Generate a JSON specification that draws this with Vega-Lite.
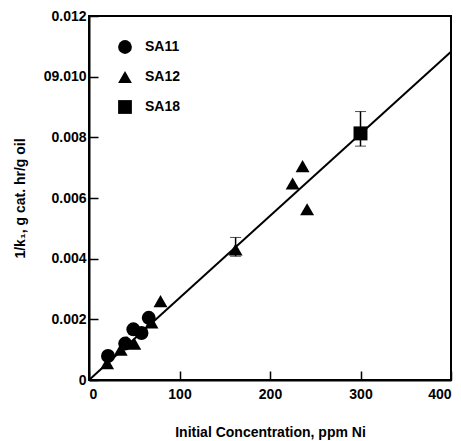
{
  "$schema": "https://vega.github.io/schema/vega-lite/v6.json",
  "width": 362,
  "height": 364,
  "autosize": "none",
  "padding": {"left": 89, "top": 16, "right": 10, "bottom": 61},
  "background": "white",
  "config": {
    "font": "Liberation Sans",
    "view": {"stroke": "black", "strokeWidth": 2},
    "axis": {
      "domainColor": "black", "domainWidth": 2, "tickColor": "black", "tickWidth": 1.5,
      "labelFont": "Liberation Sans", "labelFontWeight": "bold", "labelFontSize": 14, "labelColor": "black",
      "titleFont": "Liberation Sans", "titleFontWeight": "bold", "titleFontSize": 14, "titleColor": "black",
      "grid": false
    }
  },
  "datasets": {
    "pts": [
      {"sample": "SA11", "ni": 21, "inv": 0.00079},
      {"sample": "SA11", "ni": 40, "inv": 0.0012},
      {"sample": "SA11", "ni": 49, "inv": 0.00167},
      {"sample": "SA11", "ni": 58, "inv": 0.00155},
      {"sample": "SA11", "ni": 66, "inv": 0.00205},
      {"sample": "SA12", "ni": 20, "inv": 0.00055},
      {"sample": "SA12", "ni": 35, "inv": 0.001},
      {"sample": "SA12", "ni": 42, "inv": 0.00125},
      {"sample": "SA12", "ni": 50, "inv": 0.0012},
      {"sample": "SA12", "ni": 69, "inv": 0.0019},
      {"sample": "SA12", "ni": 79, "inv": 0.0026},
      {"sample": "SA12", "ni": 162, "inv": 0.0043},
      {"sample": "SA12", "ni": 225, "inv": 0.00648},
      {"sample": "SA12", "ni": 236, "inv": 0.00705},
      {"sample": "SA12", "ni": 241, "inv": 0.00563},
      {"sample": "SA18", "ni": 300, "inv": 0.00813}
    ],
    "err": [
      {"ni": 162, "lo": 0.00408, "hi": 0.0047},
      {"ni": 300, "lo": 0.00771, "hi": 0.00885}
    ],
    "fit": [
      {"ni": 0, "inv": 0},
      {"ni": 400, "inv": 0.01082}
    ]
  },
  "layer": [
    {
      "data": {"name": "fit"},
      "mark": {"type": "line", "color": "black", "strokeWidth": 2},
      "encoding": {
        "x": {"field": "ni", "type": "quantitative", "title": "Initial Concentration, ppm Ni", "scale": {"domain": [0, 400], "nice": false},
          "axis": {"values": [0, 100, 200, 300, 400], "tickSize": -9, "labelPadding": 16, "titlePadding": 24}},
        "y": {"field": "inv", "type": "quantitative", "title": "1/k₁, g cat. hr/g oil", "scale": {"domain": [0, 0.012], "nice": false},
          "axis": {"values": [0, 0.002, 0.004, 0.006, 0.008, 0.01, 0.012], "tickSize": -9, "labelPadding": 12,
            "labelExpr": "datum.value == 0 ? '0' : (datum.value > 0.0099 && datum.value < 0.0101 ? '09.010' : format(datum.value, '.3f'))",
            "titlePadding": 16}}
      }
    },
    {
      "data": {"name": "err"},
      "mark": {"type": "errorbar", "ticks": {"size": 11, "strokeWidth": 2, "color": "black"}, "rule": {"strokeWidth": 1.5, "color": "black"}},
      "encoding": {
        "x": {"field": "ni", "type": "quantitative", "title": "Initial Concentration, ppm Ni"},
        "y": {"field": "lo", "type": "quantitative", "title": "1/k₁, g cat. hr/g oil"},
        "y2": {"field": "hi"}
      }
    },
    {
      "data": {"name": "pts"},
      "mark": {"type": "point", "filled": true, "opacity": 1, "color": "black", "size": 195},
      "encoding": {
        "x": {"field": "ni", "type": "quantitative", "title": "Initial Concentration, ppm Ni"},
        "y": {"field": "inv", "type": "quantitative", "title": "1/k₁, g cat. hr/g oil"},
        "shape": {"field": "sample", "type": "nominal",
          "scale": {"domain": ["SA11", "SA12", "SA18"], "range": ["circle", "triangle-up", "square"]},
          "legend": {"orient": "none", "legendX": 28, "legendY": 23, "title": null, "padding": 0,
            "symbolSize": 190, "symbolFillColor": "black", "symbolStrokeColor": "black", "symbolType": "circle",
            "labelFont": "Liberation Sans", "labelFontWeight": "bold", "labelFontSize": 14, "labelColor": "black",
            "labelOffset": 12, "rowPadding": 11, "symbolOffset": 0}}
      }
    }
  ]
}
